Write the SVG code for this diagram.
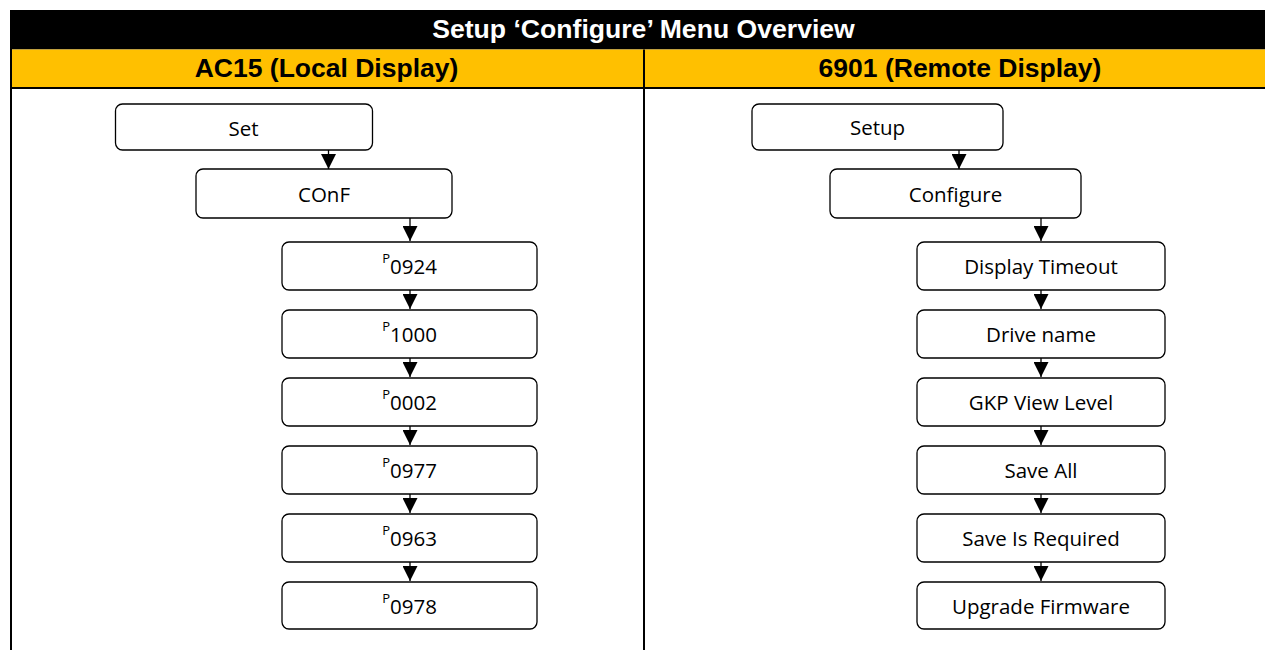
<svg xmlns="http://www.w3.org/2000/svg" width="1265" height="650" viewBox="0 0 1265 650">
<style>
.hd{font-family:"Liberation Sans",Arial,sans-serif;font-weight:bold;text-anchor:middle}
.box{fill:#fff;stroke:#000;stroke-width:1.3}
.lbl{font-family:"Open Sans","Noto Sans",sans-serif;font-size:20.5px;text-anchor:middle;fill:#000}
.sup{font-size:13px}
.con{stroke:#000;stroke-width:1.3;fill:none;marker-end:url(#ah)}
</style>
<defs>
<marker id="ah" markerUnits="userSpaceOnUse" markerWidth="15" markerHeight="15" viewBox="0 0 15 15" refX="15" refY="7.5" orient="auto">
<path d="M0,0 L15,7.5 L0,15 Z" fill="#000"/>
</marker>
</defs>
<rect width="1265" height="650" fill="#fff"/>
<g id="frame">
<rect x="10" y="10" width="1255" height="39.5" fill="#000"/>
<rect x="11" y="49.5" width="1254" height="37.5" fill="#FFC000"/>
<rect x="10" y="87" width="1255" height="2" fill="#000"/>
<rect x="10" y="10" width="2" height="640" fill="#000"/>
<rect x="643" y="49.5" width="2" height="600.5" fill="#000"/>
<text class="hd" x="643.5" y="38" font-size="26.6" fill="#fff">Setup ‘Configure’ Menu Overview</text>
<text class="hd" x="326.5" y="77" font-size="26.5" fill="#000">AC15 (Local Display)</text>
<text class="hd" x="960" y="77" font-size="26.5" fill="#000">6901 (Remote Display)</text>
</g>
<g id="connectors">
<path class="con" d="M328.5,150 V169"/>
<path class="con" d="M410,218 V241"/>
<path class="con" d="M410,290 V309"/>
<path class="con" d="M410,358 V377"/>
<path class="con" d="M410,426 V445"/>
<path class="con" d="M410,494 V513"/>
<path class="con" d="M410,562 V581"/>
<path class="con" d="M959,150 V169"/>
<path class="con" d="M1041,218 V241"/>
<path class="con" d="M1041,290 V309"/>
<path class="con" d="M1041,358 V377"/>
<path class="con" d="M1041,426 V445"/>
<path class="con" d="M1041,494 V513"/>
<path class="con" d="M1041,562 V581"/>
</g>
<g id="n-set"><rect class="box" x="115.5" y="104" width="257" height="46" rx="7"/><text class="lbl" x="243.5" y="136">Set</text></g>
<g id="n-conf"><rect class="box" x="196" y="169" width="256" height="49" rx="7"/><text class="lbl" x="324" y="202">COnF</text></g>
<g id="n-p0924"><rect class="box" x="282" y="242" width="255" height="48" rx="7"/><text class="lbl" x="409.5" y="274"><tspan class="sup" dy="-11.5">P</tspan><tspan dy="11.5">0924</tspan></text></g>
<g id="n-p1000"><rect class="box" x="282" y="310" width="255" height="48" rx="7"/><text class="lbl" x="409.5" y="342"><tspan class="sup" dy="-11.5">P</tspan><tspan dy="11.5">1000</tspan></text></g>
<g id="n-p0002"><rect class="box" x="282" y="378" width="255" height="48" rx="7"/><text class="lbl" x="409.5" y="410"><tspan class="sup" dy="-11.5">P</tspan><tspan dy="11.5">0002</tspan></text></g>
<g id="n-p0977"><rect class="box" x="282" y="446" width="255" height="48" rx="7"/><text class="lbl" x="409.5" y="478"><tspan class="sup" dy="-11.5">P</tspan><tspan dy="11.5">0977</tspan></text></g>
<g id="n-p0963"><rect class="box" x="282" y="514" width="255" height="48" rx="7"/><text class="lbl" x="409.5" y="546"><tspan class="sup" dy="-11.5">P</tspan><tspan dy="11.5">0963</tspan></text></g>
<g id="n-p0978"><rect class="box" x="282" y="582" width="255" height="47" rx="7"/><text class="lbl" x="409.5" y="614"><tspan class="sup" dy="-11.5">P</tspan><tspan dy="11.5">0978</tspan></text></g>
<g id="r-setup"><rect class="box" x="752" y="104" width="251" height="46" rx="7"/><text class="lbl" x="877.5" y="134.5">Setup</text></g>
<g id="r-configure"><rect class="box" x="830" y="169" width="251" height="49" rx="7"/><text class="lbl" x="955.5" y="201.5">Configure</text></g>
<g id="r-timeout"><rect class="box" x="917" y="242" width="248" height="48" rx="7"/><text class="lbl" x="1041" y="274">Display Timeout</text></g>
<g id="r-drivename"><rect class="box" x="917" y="310" width="248" height="48" rx="7"/><text class="lbl" x="1041" y="342">Drive name</text></g>
<g id="r-gkp"><rect class="box" x="917" y="378" width="248" height="48" rx="7"/><text class="lbl" x="1041" y="410">GKP View Level</text></g>
<g id="r-saveall"><rect class="box" x="917" y="446" width="248" height="48" rx="7"/><text class="lbl" x="1041" y="478">Save All</text></g>
<g id="r-saverequired"><rect class="box" x="917" y="514" width="248" height="48" rx="7"/><text class="lbl" x="1041" y="546">Save Is Required</text></g>
<g id="r-firmware"><rect class="box" x="917" y="582" width="248" height="47" rx="7"/><text class="lbl" x="1041" y="614">Upgrade Firmware</text></g>
</svg>
